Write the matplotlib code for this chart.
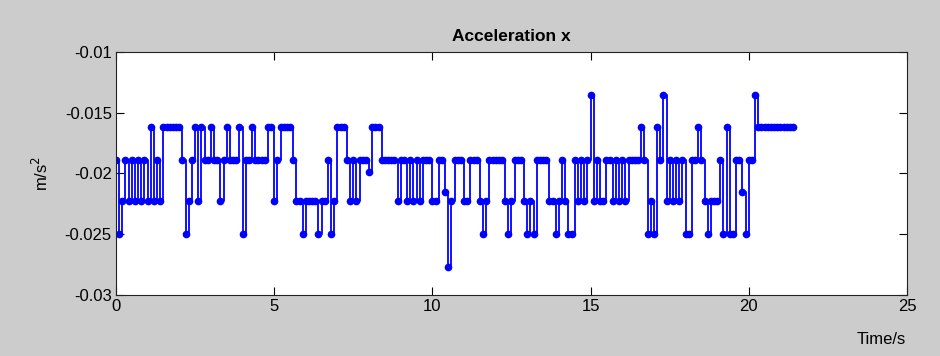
import numpy as np
import matplotlib
matplotlib.use('Agg')
import matplotlib.pyplot as plt

# sample levels (m/s^2) used by the quantised accelerometer signal
levels = {
    'A': -0.0135,
    'B': -0.0162,
    'C': -0.0189,
    'G': -0.0199,
    'H': -0.0215,
    'D': -0.0223,
    'E': -0.0250,
    'F': -0.0277,
}

codes = ("CEDCDCDCDC" "DBDCDBBBBB" "BCEDCBDBCC" "BCCDCBCCCB" "ECCBCCCCBB"
         "DCBBBBCDDE" "DDDDEDDCED" "BBBCDCDCCC" "GBBBCCCCCD" "CCDCDCDCCC"
         "DDCCHFDCCC" "DDCCCDEDCC" "CCCDEDCCCD" "EDECCCCDDE" "DCDEECDCDC"
         "ADCDDCCDCD" "CDCCCCBCED" "EBCADCDCDC" "EECCBCDEDD" "DCEBEECCHE"
         "CCABBBBBBB" "BBBBB")
dt = 0.1

xticks = [0, 5, 10, 15, 20, 25]
yticks = [-0.03, -0.025, -0.02, -0.015, -0.01]
ytick_labels = ['-0.03', '-0.025', '-0.02', '-0.015', '-0.01']

accel = np.array([levels[c] for c in codes])
t = np.arange(len(accel)) * dt

plt.rcParams['font.family'] = ['Liberation Sans', 'DejaVu Sans']

fig = plt.figure(figsize=(9.4, 3.56), dpi=100, facecolor='#cccccc')
ax = fig.add_axes([116/940, 61/356, 791/940, 243/356])
ax.set_facecolor('white')

ax.plot(t, accel, color='#0000ff', linewidth=1.3, drawstyle='steps-post',
        marker='.', markersize=9)

ax.set_xlim(0, 25)
ax.set_ylim(-0.03, -0.01)
ax.set_xticks(xticks)
ax.set_xticklabels([str(x) for x in xticks])
ax.set_yticks(yticks)
ax.set_yticklabels(ytick_labels)
ax.tick_params(direction='in', length=6, width=0.8, labelsize=12,
               top=True, right=True, pad=3)
for s in ax.spines.values():
    s.set_linewidth(0.8)
    s.set_color('#222222')

ax.set_title('Acceleration x', fontsize=12.5, fontweight='bold', pad=8)
ax.set_ylabel('m/s$^2$', fontsize=12, labelpad=10)
fig.text(906/940, 1 - 340/356, 'Time/s', fontsize=12, ha='right', va='center')

plt.savefig('out.png', dpi=100, facecolor=fig.get_facecolor())
